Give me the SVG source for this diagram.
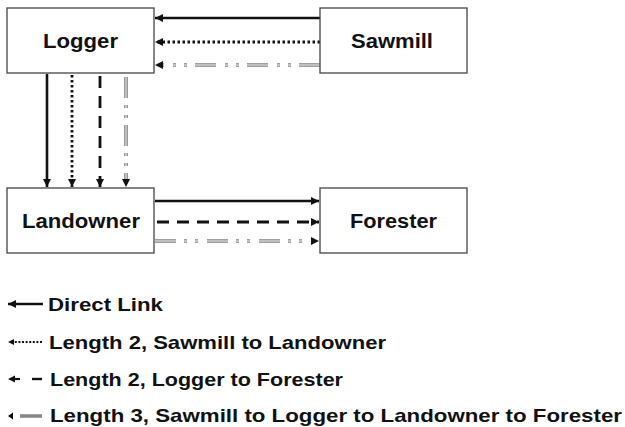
<svg xmlns="http://www.w3.org/2000/svg" width="625" height="427" viewBox="0 0 625 427">
<style>
.box{fill:#fff;stroke:#444;stroke-width:1.3}
.lbl{font-family:"Liberation Sans",Arial,sans-serif;font-weight:bold;font-size:20px;fill:#111}
.leg{font-family:"Liberation Sans",Arial,sans-serif;font-weight:bold;font-size:19px;fill:#111}
.solid{stroke:#111;stroke-width:2.6;fill:none}
.dot{stroke:#111;stroke-width:2.8;fill:none;stroke-dasharray:2.5 2.5}
.dash{stroke:#111;stroke-width:2.8;fill:none;stroke-dasharray:12 8}
.dd{stroke:#808080;stroke-width:3.6;fill:none;stroke-dasharray:21 8 3 8 3 9}
.ddi{stroke:#fff;stroke-width:1;fill:none;stroke-dasharray:21 8 3 8 3 9}
.ddv{stroke:#808080;stroke-width:3.6;fill:none;stroke-dasharray:21 7 3 7 3 7}
.ddvi{stroke:#fff;stroke-width:1;fill:none;stroke-dasharray:21 7 3 7 3 7}
.hd{fill:#111}
</style>
<defs>
<marker id="ah" viewBox="0 0 10 10" refX="10" refY="5" markerWidth="8" markerHeight="8" markerUnits="userSpaceOnUse" orient="auto"><path d="M0,0 L10,5 L0,10 z" fill="#111"/></marker>
</defs>
<g id="connectors">
<line class="solid" x1="320" y1="18" x2="155" y2="18" marker-end="url(#ah)"/>
<line class="dot" x1="320" y1="42" x2="155" y2="42" marker-end="url(#ah)"/>
<line class="dd" x1="320" y1="65" x2="162" y2="65"/>
<line class="ddi" x1="320" y1="65" x2="162" y2="65"/>
<path class="hd" d="M163,61 L155,65 L163,69z"/>

<line class="solid" x1="47" y1="74" x2="47" y2="187" marker-end="url(#ah)"/>
<line class="dot" x1="72" y1="75" x2="72" y2="187" marker-end="url(#ah)"/>
<line class="dash" x1="100" y1="76" x2="100" y2="187" marker-end="url(#ah)"/>
<line class="ddv" x1="126" y1="77" x2="126" y2="179"/>
<line class="ddvi" x1="126" y1="77" x2="126" y2="179"/>
<path class="hd" d="M122,179 L126,187 L130,179z"/>

<line class="solid" x1="155" y1="201" x2="319" y2="201" marker-end="url(#ah)"/>
<line class="dash" x1="157" y1="222" x2="319" y2="222" marker-end="url(#ah)"/>
<line class="dd" x1="155" y1="241" x2="312" y2="241"/>
<line class="ddi" x1="155" y1="241" x2="312" y2="241"/>
<path class="hd" d="M311,237 L319,241 L311,245z"/>
</g>
<g id="logger"><rect class="box" x="7" y="8" width="147" height="65"/><text class="lbl" x="43" y="48" textLength="75" lengthAdjust="spacingAndGlyphs">Logger</text></g>
<g id="sawmill"><rect class="box" x="320" y="8" width="147" height="65"/><text class="lbl" x="351" y="48" textLength="82" lengthAdjust="spacingAndGlyphs">Sawmill</text></g>
<g id="landowner"><rect class="box" x="7" y="188" width="147" height="65"/><text class="lbl" x="22" y="228" textLength="118" lengthAdjust="spacingAndGlyphs">Landowner</text></g>
<g id="forester"><rect class="box" x="320" y="188" width="147" height="65"/><text class="lbl" x="350" y="228" textLength="87" lengthAdjust="spacingAndGlyphs">Forester</text></g>
<g id="legend">
<line class="solid" x1="43" y1="304" x2="8" y2="304" stroke-width="2.2" marker-end="url(#ah)"/>
<text class="leg" x="48" y="311" textLength="115" lengthAdjust="spacingAndGlyphs">Direct Link</text>
<line x1="42" y1="342" x2="14" y2="342" stroke="#111" stroke-width="1.8" stroke-dasharray="2 1.6"/>
<path class="hd" d="M14,339 L8,342 L14,345z"/>
<text class="leg" x="49" y="348.5" textLength="337" lengthAdjust="spacingAndGlyphs">Length 2, Sawmill to Landowner</text>
<line x1="20" y1="379" x2="12" y2="379" stroke="#111" stroke-width="2.2"/>
<path class="hd" d="M15,375.5 L8,379 L15,382.5z"/>
<line x1="32" y1="379" x2="42" y2="379" stroke="#111" stroke-width="2.4"/>
<text class="leg" x="50" y="386" textLength="293" lengthAdjust="spacingAndGlyphs">Length 2, Logger to Forester</text>
<path class="hd" d="M13,412.5 L8,416 L13,419.5z"/>
<line x1="20" y1="416" x2="42" y2="416" stroke="#888" stroke-width="3.6"/>
<text class="leg" x="50" y="422" textLength="572" lengthAdjust="spacingAndGlyphs">Length 3, Sawmill to Logger to Landowner to Forester</text>
</g>
</svg>
